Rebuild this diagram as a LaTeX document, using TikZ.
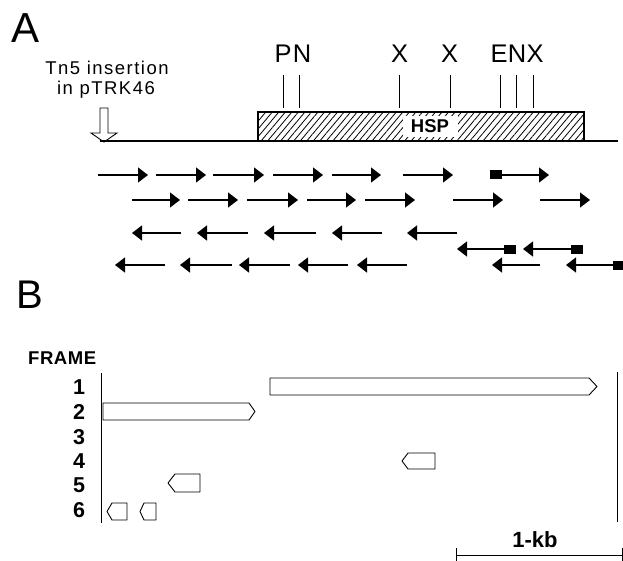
\documentclass[tikz,border=0pt]{standalone}
\usepackage{fontspec}
\setmainfont{Liberation Sans}
\usetikzlibrary{arrows.meta,patterns.meta}
\begin{document}
\begin{tikzpicture}[x=1pt,y=-1pt,
  lbl/.style={inner sep=0pt,anchor=base},
  fwd/.style={line width=1.3pt,-{Triangle[length=10pt,width=15pt]}},
  sq/.style={fill=black},
  site/.style={line width=0.8pt},
  orf/.style={line width=0.9pt,line join=round},
  vline/.style={line width=1pt}]
\useasboundingbox (0,0) rectangle (623,561);
% panel letters
\node[lbl,anchor=base west] (A) at (11,43) {\fontsize{42}{42}\selectfont A};
\node[lbl,anchor=base west] (B) at (16,308) {\fontsize{40}{40}\selectfont B};
% Tn5 label
\node[lbl] (tn1) at (107,75) {\fontsize{18.5}{18.5}\selectfont\addfontfeatures{LetterSpace=8}Tn5 insertion};
\node[lbl] (tn2) at (106,95) {\fontsize{18.5}{18.5}\selectfont\addfontfeatures{LetterSpace=8}in pTRK46};
% hollow arrow
\draw[line width=0.9pt,fill=white,line join=miter] (100,108) -- (108,108) -- (108,133) -- (117,133) -- (104,142) -- (91,133) -- (100,133) -- cycle;
% baseline
\draw[line width=1.2pt] (100,141) -- (618,141);
% HSP box
\draw[line width=1.3pt,pattern={Lines[angle=50,distance=5pt,line width=0.8pt]}] (258,112) rectangle (584,141);
\node[fill=white,inner sep=0pt,minimum width=55pt,minimum height=21pt] (hspbg) at (430.5,126.5) {};
\node[lbl] (hsp) at (430,133) {\fontsize{18.5}{18.5}\selectfont\bfseries HSP};
% restriction sites
\foreach \x in {283,299,399,450,500,516,533}{
  \draw[site] (\x,75) -- (\x,108);
}
\node[lbl] (sP) at (283,63) {\fontsize{25.5}{25.5}\selectfont P};
\node[lbl] (sN) at (302,63) {\fontsize{25.5}{25.5}\selectfont N};
\node[lbl] (sX1) at (399.5,63) {\fontsize{25.5}{25.5}\selectfont X};
\node[lbl] (sX2) at (449.5,63) {\fontsize{25.5}{25.5}\selectfont X};
\node[lbl] (sE) at (499,63) {\fontsize{25.5}{25.5}\selectfont E};
\node[lbl] (sN2) at (517,63) {\fontsize{25.5}{25.5}\selectfont N};
\node[lbl] (sX3) at (535,63) {\fontsize{25.5}{25.5}\selectfont X};
% sequencing arrows row 1
\foreach \a/\b in {98/148,156/206,213/264,273/323,332/381,403/453,502/549}{
  \draw[fwd] (\a,175) -- (\b,175);
}
\fill[sq] (490,170.5) rectangle (502,179.5);
% row 2
\foreach \a/\b in {132/180,188/238,247/298,307/356,365/415,453/503,540/590}{
  \draw[fwd] (\a,200) -- (\b,200);
}
% row 3 (reverse)
\foreach \a/\b in {181/132,248/197,316/264,382/332,457/407}{
  \draw[fwd] (\a,233) -- (\b,233);
}
% row 3b
\draw[fwd] (504,249) -- (457,249);
\fill[sq] (504,244.5) rectangle (516,253.5);
\draw[fwd] (571,249) -- (523,249);
\fill[sq] (571,244.5) rectangle (583,253.5);
% row 4
\foreach \a/\b in {165/115,232/180,290/239,348/298,407/357,540/492,613/566}{
  \draw[fwd] (\a,265) -- (\b,265);
}
\fill[sq] (613,260.5) rectangle (624,269.5);
% panel B
\node[lbl,anchor=base west] (frame) at (28,364.5) {\fontsize{18.5}{18.5}\selectfont\bfseries\addfontfeatures{LetterSpace=3}FRAME};
\foreach \i/\y in {1/387,2/412,3/437,4/461,5/485,6/510}{
  \node[lbl] (f\i) at (79,\y+7.5) {\fontsize{21.5}{21.5}\selectfont\bfseries \i};
}
\draw[vline] (101,373) -- (101,523);
\draw[vline] (617,372) -- (617,522);
% ORFs
\draw[orf] (270,378) -- (589,378) -- (597,386.5) -- (589,395) -- (270,395) -- cycle;
\draw[orf] (103,403) -- (249,403) -- (255,411.5) -- (249,420) -- (103,420) -- cycle;
\draw[orf] (402,461) -- (408,453) -- (435,453) -- (435,469) -- (408,469) -- cycle;
\draw[orf] (168,483) -- (175,474) -- (200,474) -- (200,492) -- (175,492) -- cycle;
\draw[orf] (107,511.5) -- (112,503) -- (127,503) -- (127,520) -- (112,520) -- cycle;
\draw[orf] (140,511.5) -- (144,503) -- (156,503) -- (156,520) -- (144,520) -- cycle;
% scale bar
\node[lbl] (kb) at (535,547) {\fontsize{22}{22}\selectfont\bfseries 1-kb};
\draw[line width=0.9pt] (456,555) -- (622,555);
\draw[line width=0.9pt] (456,548) -- (456,561);
\draw[line width=0.9pt] (622,548) -- (622,561);
\end{tikzpicture}
\end{document}
